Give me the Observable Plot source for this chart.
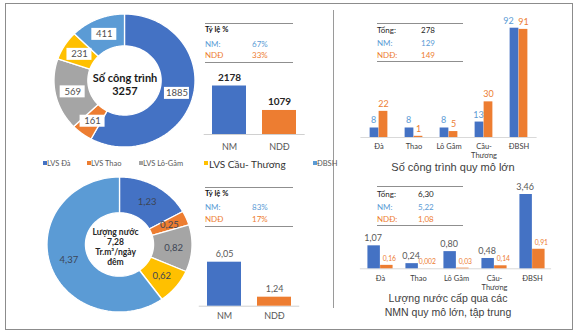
<!DOCTYPE html>
<html><head><meta charset="utf-8">
<script src="https://cdn.jsdelivr.net/npm/d3@7"></script>
<script src="https://cdn.jsdelivr.net/npm/@observablehq/plot@0.6"></script>
<style>
body{margin:0;background:#fff}
#chart{position:relative;width:576px;height:336px;overflow:hidden;font-family:Lato,sans-serif;background:#fff}
#chart svg{position:absolute;left:0;top:0}
.t{position:absolute;white-space:nowrap;line-height:1}
.ln{position:absolute;height:0;border-top:1px solid #8f8f8f}
</style></head><body><div id="chart"></div>
<script>
// ---------- data ----------
const regions = ["LVS Đà", "LVS Thao", "LVS Lô-Gâm", "LVS Cầu- Thương", "ĐBSH"];
const regionColors = ["#4472C4", "#ED7D31", "#A5A5A5", "#FFC000", "#5B9BD5"];
const worksByRegion = [1885, 161, 569, 231, 411];
const worksTotal = "3257";
const waterByRegion = [1.23, 0.25, 0.82, 0.62, 4.37];
const waterTotal = "7,28";
const owners = ["NM", "NDĐ"];
const worksByOwner = [2178, 1079];
const waterByOwner = [6.05, 1.24];
const worksShare = ["67%", "33%"];
const waterShare = ["83%", "17%"];
const basins = ["Đà", "Thao", "Lô Gâm", "Cầu-\nThương", "ĐBSH"];
const largeWorksNM = [8, 8, 8, 13, 92];
const largeWorksNDD = [22, 1, 5, 30, 91];
const largeWorksTotals = ["278", "129", "149"];
const largeWaterNM = [1.07, 0.24, 0.80, 0.48, 3.46];
const largeWaterNDD = [0.16, 0.002, 0.03, 0.14, 0.91];
const largeWaterTotals = ["6,30", "5,22", "1,08"];

const BLUE = "#4472C4", ORANGE = "#ED7D31", LBLUE = "#5B9BD5", TXT = "#404040";
const root = document.getElementById("chart");
const fmt = v => v.toFixed(v < 0.01 ? 3 : 2).replace(".", ",");

function place(frame, opts) {
  const [l, t, r, b] = frame;
  const svg = Plot.plot({
    width: 576, height: 336,
    marginLeft: l, marginTop: t, marginRight: 576 - r, marginBottom: 336 - b,
    style: "background:transparent;overflow:visible;position:absolute;left:0;top:0;font-family:Lato,sans-serif",
    ...opts
  });
  root.appendChild(svg);
}
function addText(x, y, text, {size = 8, color = TXT, weight = "normal", anchor = "start", family = "Lato, sans-serif"} = {}) {
  const d = document.createElement("div");
  d.className = "t";
  d.textContent = text;
  d.style.left = x + "px";
  d.style.top = y + "px";
  d.style.fontSize = size + "px";
  d.style.color = color;
  d.style.fontWeight = weight;
  d.style.fontFamily = family;
  d.style.transform = anchor === "middle" ? "translate(-50%,-50%)" : "translate(0,-50%)";
  root.appendChild(d);
}
function addLine(x0, x1, y) {
  const d = document.createElement("div");
  d.className = "ln";
  d.style.left = x0 + "px"; d.style.width = (x1 - x0) + "px"; d.style.top = y + "px";
  root.appendChild(d);
}

// ---------- frames ----------
const frame = document.createElement("div");
Object.assign(frame.style, {position: "absolute", left: "5px", top: "3px", width: "566px", height: "325px", border: "1px solid #8c8c8c"});
root.appendChild(frame);
const divider = document.createElement("div");
Object.assign(divider.style, {position: "absolute", left: "333px", top: "10px", width: "0", height: "298px", borderLeft: "1px solid #9a9a9a"});
root.appendChild(divider);

// ---------- donuts ----------
function donut(values, box, hole, labelR, labelFmt, boxed, centerText, centerOpts) {
  const pie = d3.pie().sort(null)(values);
  const pts = [];
  pie.forEach((s, i) => {
    const n = 72;
    for (let j = 0; j <= n; j++) {
      const a = s.startAngle + (s.endAngle - s.startAngle) * j / n;
      pts.push({k: regions[i], xi: hole * Math.sin(a), yi: hole * Math.cos(a), xo: Math.sin(a), yo: Math.cos(a)});
    }
  });
  const labels = pie.map((s, i) => {
    const a = (s.startAngle + s.endAngle) / 2;
    return {x: labelR * Math.sin(a), y: labelR * Math.cos(a), text: labelFmt(values[i])};
  });
  const marks = [
    Plot.area(pts, {x1: "xi", y1: "yi", x2: "xo", y2: "yo", z: "k", fill: "k", stroke: "white", strokeWidth: 1.3})
  ];
  if (boxed) {
    marks.push(Plot.rect(labels, {x1: "x", x2: "x", y1: "y", y2: "y", fill: "white", insetLeft: -12.5, insetRight: -12.5, insetTop: -6, insetBottom: -6}));
  }
  marks.push(Plot.text(labels, {x: "x", y: "y", text: "text", fontSize: 9.5, fill: boxed ? "#505050" : "#3d4555"}));
  marks.push(Plot.text([centerText], {x: 0, y: 0, text: d => d, ...centerOpts}));
  place(box, {
    x: {domain: [-1, 1], axis: null},
    y: {domain: [-1, 1], axis: null},
    color: {domain: regions, range: regionColors},
    marks
  });
}
donut(worksByRegion, [54, 14, 195, 147], 0.52, 0.76, v => String(v), true,
  "Số công trình\n" + worksTotal,
  {fontSize: 11, fontWeight: "bold", fill: "#1a1a1a", lineHeight: 1.2, dy: 3});
donut(waterByRegion, [47, 177, 192, 312], 0.47, 0.74, fmt, false,
  "Lượng nước\n" + waterTotal + "\nTr.m³/ngày\nđêm",
  {fontSize: 8.5, fontWeight: "bold", fill: "#262626", lineHeight: 1.18, dy: 2, dx: -4.5});

// ---------- legend ----------
const legendX = [43, 87, 139, 204, 313];
regions.forEach((r, i) => {
  const big = i === 3;
  const m = document.createElement("div");
  Object.assign(m.style, {position: "absolute", left: legendX[i] + "px", top: "161px", width: "4px", height: "4px", background: regionColors[i]});
  root.appendChild(m);
  addText(legendX[i] + (big ? 5 : 4), 163.5, r, {size: big ? 10 : 7.5, color: big ? "#333" : "#595959"});
});

// ---------- owner bars (left) ----------
function ownerBars(values, box, labelFmt, labelOpts, axisDy) {
  const idx = d3.range(values.length);
  place(box, {
    x: {domain: owners, padding: 0, axis: null},
    y: {domain: [0, d3.max(values)], axis: null},
    marks: [
      Plot.ruleY([0], {stroke: "#d0d0d0"}),
      Plot.barY(idx, {x: i => owners[i], y: i => values[i], fill: i => i === 0 ? BLUE : ORANGE, insetLeft: 8, insetRight: 8}),
      Plot.text(idx, {x: i => owners[i], y: i => values[i], text: i => labelFmt(values[i]), lineAnchor: "bottom", dy: -5, ...labelOpts}),
      Plot.text(idx, {x: i => owners[i], y: 0, text: i => owners[i], lineAnchor: "top", dy: axisDy, fontSize: 9, fill: "#595959"})
    ]
  });
}
ownerBars(worksByOwner, [203.7, 85.5, 304.7, 134], v => String(v), {fontSize: 10, fontWeight: "bold", fill: "#262626"}, 9);
ownerBars(waterByOwner, [198.75, 261.7, 299.25, 305.7], fmt, {fontSize: 9, fill: "#595959"}, 6);

// ---------- share tables (left) ----------
function shareTable(yTop, yBot, rows, shares) {
  addLine(205, 293, yTop);
  addLine(205, 293, yBot);
  addText(205, rows[0], "Tỷ lệ %", {size: 7.5, weight: "bold", color: "#111"});
  addText(205, rows[1], owners[0] + ":", {size: 8, color: LBLUE});
  addText(252, rows[1], shares[0], {size: 8, color: LBLUE});
  addText(205, rows[2], owners[1], {size: 8, color: ORANGE});
  addText(252, rows[2], shares[1], {size: 8, color: ORANGE});
}
shareTable(23, 62, [30, 43.5, 55], worksShare);
shareTable(187, 226, [194, 206.5, 219], waterShare);

// ---------- totals tables (right) ----------
function totalsTable(yTop, yBot, rows, totals, vx) {
  addLine(377, 463, yTop);
  addLine(377, 463, yBot);
  addText(377, rows[0], "Tổng:", {size: 8, color: "#262626"});
  addText(vx, rows[0], totals[0], {size: 8, color: "#262626"});
  addText(377, rows[1], owners[0] + ":", {size: 8, color: LBLUE});
  addText(vx, rows[1], totals[1], {size: 8, color: LBLUE});
  addText(377, rows[2], owners[1] + ":", {size: 8, color: ORANGE});
  addText(vx, rows[2], totals[2], {size: 8, color: ORANGE});
}
totalsTable(23, 61, [30, 42.5, 55], largeWorksTotals, 421);
totalsTable(186, 225, [194, 206.5, 218.5], largeWaterTotals, 418);

// ---------- grouped bars (right) ----------
function groupedBars(nm, ndd, box, barW, labelFmt, nmLabel, nddLabel, catDy, lastNmShift, nddShift) {
  const idx = d3.range(basins.length);
  const last = basins.length - 1;
  const step = (box[2] - box[0]) / basins.length;
  const inset = (step - barW) / 2;
  const lab = (vals, dx, opts, filter) => Plot.text(idx, {filter, x: i => basins[i], y: i => vals[i], text: i => labelFmt(vals[i]), dx, dy: -4.5, lineAnchor: "bottom", ...opts});
  place(box, {
    x: {domain: basins, padding: 0, axis: null},
    y: {domain: [0, d3.max(nm.concat(ndd))], axis: null},
    marks: [
      Plot.ruleY([0], {stroke: "#d9d9d9"}),
      Plot.barY(idx, {x: i => basins[i], y: i => nm[i], fill: BLUE, insetLeft: inset, insetRight: inset, dx: -barW / 2}),
      Plot.barY(idx, {x: i => basins[i], y: i => ndd[i], fill: ORANGE, insetLeft: inset, insetRight: inset, dx: barW / 2}),
      lab(nm, -barW / 2 - 1, nmLabel, i => i !== last),
      lab(nm, -barW / 2 - lastNmShift, nmLabel, i => i === last),
      lab(ndd, barW / 2 + nddShift, nddLabel),
      Plot.text(idx, {x: i => basins[i], y: 0, text: i => basins[i], lineAnchor: "top", dy: catDy, fontSize: 7.5, lineHeight: 1.2, fill: TXT})
    ]
  });
}
groupedBars(largeWorksNM, largeWorksNDD, [360.4, 27.7, 536.6, 137], 9, v => String(v),
  {fontSize: 9, fill: LBLUE}, {fontSize: 9, fill: ORANGE}, 5, 6, 0);
groupedBars(largeWaterNM, largeWaterNDD, [359.9, 194, 551.1, 268.3], 12.7, fmt,
  {fontSize: 9, fill: "#595959"}, {fontSize: 6.8, fill: ORANGE}, 6, 1, 2.5);

// ---------- titles ----------
const TF = "'Liberation Sans', Arial, sans-serif";
addText(453, 167, "Số công trình quy mô lớn", {size: 11, color: TXT, anchor: "middle", family: TF});
addText(448, 298, "Lượng nước cấp qua các", {size: 10.5, color: TXT, anchor: "middle", family: TF});
addText(448, 312, "NMN quy mô lớn, tập trung", {size: 10.5, color: TXT, anchor: "middle", family: TF});
</script></body></html>
